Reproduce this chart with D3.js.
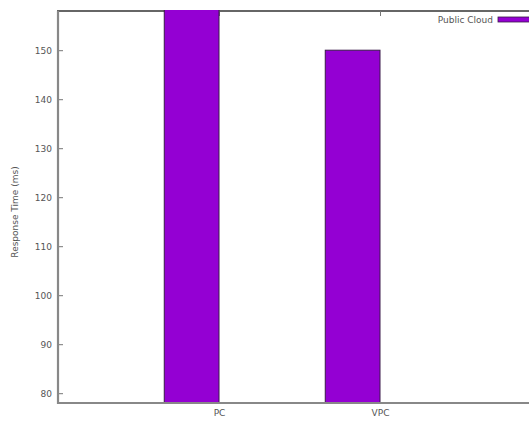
<!DOCTYPE html>
<html>
<head>
<meta charset="utf-8">
<script src="https://cdn.jsdelivr.net/npm/d3@7"></script>
<style>
  html, body { margin: 0; padding: 0; background: #fff; }
  svg { display: block; }
  text { font-family: "DejaVu Sans", sans-serif; fill: #555; }
</style>
</head>
<body>
<svg id="chart" width="529" height="423"></svg>
<script>
// ---- data ----
const categories = ["PC", "VPC"];
const seriesName = "Public Cloud";
const values = [160, 150];
const yTicks = [80, 90, 100, 110, 120, 130, 140, 150];
const yTitle = "Response Time (ms)";

// ---- layout ----
const W = 529, H = 423;
const plotLeft = 58, plotTop = 11, plotBottom = 403;
const unitPx = 161;
const barW = 0.34;
const color = "#9400D3";

const svg = d3.select("#chart");

const x = d3.scaleLinear().domain([-1, 2]).range([plotLeft, plotLeft + 3 * unitPx]);
const y = d3.scaleLinear().domain([78, 158]).range([plotBottom, plotTop]);

svg.append("defs").append("clipPath").attr("id", "clip")
  .append("rect")
  .attr("x", plotLeft).attr("y", plotTop - 1)
  .attr("width", W - plotLeft).attr("height", plotBottom - plotTop + 1);

// top border (drawn under bars)
svg.append("line").attr("x1", plotLeft - 1).attr("x2", W).attr("y1", plotTop).attr("y2", plotTop)
  .attr("stroke", "#333").attr("stroke-width", 1.6);

// top mirror ticks
const xTop = d3.axisTop(x).tickValues(d3.range(categories.length))
  .tickFormat("").tickSize(-5);
const gt = svg.append("g").attr("transform", `translate(0,${plotTop})`).call(xTop);
gt.select(".domain").remove();
gt.selectAll(".tick line").attr("stroke", "#777");

// bars
svg.append("g").attr("clip-path", "url(#clip)")
  .selectAll("rect")
  .data(values)
  .join("rect")
  .attr("x", (d, i) => x(i - barW))
  .attr("width", (d, i) => x(i) - x(i - barW))
  .attr("y", d => y(d))
  .attr("height", d => y(y.domain()[0]) - y(d))
  .attr("fill", color)
  .attr("stroke", "#3a1a4a")
  .attr("stroke-width", 1);

// left axis
const yAxis = d3.axisLeft(y).tickValues(yTicks).tickSize(-5).tickPadding(6);
const gy = svg.append("g").attr("transform", `translate(${plotLeft},0)`).call(yAxis);
gy.select(".domain").remove();
gy.selectAll(".tick line").attr("stroke", "#777").attr("stroke-width", 1);
gy.selectAll(".tick text").attr("font-size", 9).attr("fill", "#555")
  .attr("font-family", "DejaVu Sans, sans-serif");

// bottom axis labels
const xAxis = d3.axisBottom(x).tickValues(d3.range(categories.length))
  .tickFormat(i => categories[i]).tickSize(0).tickPadding(7);
const gx = svg.append("g").attr("transform", `translate(0,${plotBottom})`).call(xAxis);
gx.select(".domain").remove();
gx.selectAll(".tick text").attr("font-size", 9).attr("fill", "#555")
  .attr("font-family", "DejaVu Sans, sans-serif");

// left and bottom borders
svg.append("line").attr("x1", plotLeft).attr("x2", plotLeft).attr("y1", plotTop).attr("y2", plotBottom + 1)
  .attr("stroke", "#888").attr("stroke-width", 2.2);
svg.append("line").attr("x1", plotLeft - 1).attr("x2", W).attr("y1", plotBottom).attr("y2", plotBottom)
  .attr("stroke", "#888").attr("stroke-width", 2.2);

// y title
svg.append("text")
  .attr("transform", `translate(18,${(plotTop + plotBottom) / 2 + 5}) rotate(-90)`)
  .attr("text-anchor", "middle")
  .attr("font-size", 9)
  .text(yTitle);

// legend
svg.append("text")
  .attr("x", 493).attr("y", 23)
  .attr("text-anchor", "end")
  .attr("font-size", 9)
  .text(seriesName);
svg.append("rect")
  .attr("x", 498).attr("y", 17).attr("width", 40).attr("height", 5)
  .attr("fill", color).attr("stroke", "#3a1a4a").attr("stroke-width", 0.8);
</script>
</body>
</html>
